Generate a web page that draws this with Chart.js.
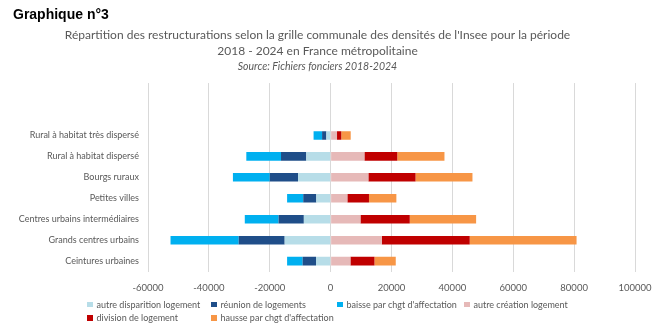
<!DOCTYPE html>
<html>
<head>
<meta charset="utf-8">
<script src="https://cdn.jsdelivr.net/npm/chart.js@4/dist/chart.umd.min.js"></script>
<style>
    body { margin: 0; background: #fff; }
    #page { position: relative; width: 664px; height: 330px; overflow: hidden; }
    #graphique { position: absolute; left: 0; top: 0; }
    #numero {
        position: absolute; left: 13px; top: 6px;
        font: bold 14px "Liberation Sans", Arial, sans-serif; color: #000;
    }
    #legende {
        position: absolute; left: 87px; top: 298px;
        display: grid; grid-template-columns: 124px 126px 127px auto;
        row-gap: 1px;
        font: 9px Lato, sans-serif; color: #595959;
    }
    #legende span { display: flex; align-items: center; height: 12.5px; white-space: nowrap; }
    #legende i { display: inline-block; flex-shrink: 0; width: 5.5px; height: 5.5px; margin-right: 4px; }
</style>
</head>
<body>
<div id="page">
    <canvas id="graphique" width="664" height="330"></canvas>
    <div id="numero">Graphique n°3</div>
    <div id="legende"></div>
</div>
<script>
const categories = [
    "Rural à habitat très dispersé", "Rural à habitat dispersé", "Bourgs ruraux",
    "Petites villes", "Centres urbains intermédiaires", "Grands centres urbains",
    "Ceintures urbaines"
];

const autreDisparition = [-1400, -8000, -10700, -4700, -8800, -15100, -4800];
const reunion = [-1400, -8300, -9300, -4300, -8300, -15100, -4400];
const baisse = [-2800, -11400, -12100, -5300, -11100, -22400, -5100];
const autreCreation = [2100, 11100, 12400, 5500, 9800, 16800, 6500];
const division = [1400, 10800, 15500, 7100, 16200, 28900, 7900];
const hausse = [3100, 15500, 18700, 9000, 21800, 35100, 7000];

const series = [
    { nom: "autre disparition logement", valeurs: autreDisparition, couleur: '#b7dde8' },
    { nom: "réunion de logements", valeurs: reunion, couleur: '#1f4e89' },
    { nom: "baisse par chgt d'affectation", valeurs: baisse, couleur: '#00b0f0' },
    { nom: "autre création logement", valeurs: autreCreation, couleur: '#e6b9b8' },
    { nom: "division de logement", valeurs: division, couleur: '#c00000' },
    { nom: "hausse par chgt d'affectation", valeurs: hausse, couleur: '#f79646' }
];

// deux lignes vides en haut, comme dans le graphique Excel
const labels = ['', ''].concat(categories);

const datasets = [];
for (let i = 0; i < series.length; i++) {
    datasets.push({
        label: series[i].nom,
        data: [null, null].concat(series[i].valeurs),
        backgroundColor: series[i].couleur,
        barPercentage: 0.41,
        categoryPercentage: 1
    });
}

const legende = document.getElementById('legende');
for (let i = 0; i < series.length; i++) {
    legende.innerHTML += `<span><i style="background:${series[i].couleur}"></i>${series[i].nom}</span>`;
}

new Chart(document.getElementById('graphique'), {
    type: 'bar',
    data: { labels: labels, datasets: datasets },
    options: {
        indexAxis: 'y',
        responsive: false,
        animation: false,
        layout: { padding: { top: 20, right: 29, bottom: 25, left: 0 } },
        plugins: {
            legend: { display: false },
            tooltip: { enabled: false },
            title: {
                display: true,
                text: ["Répartition des restructurations selon la grille communale des densités de l'Insee pour la période",
                       "2018 - 2024 en France métropolitaine"],
                color: '#595959',
                font: { family: 'Lato', size: 12, weight: 'normal', lineHeight: 1.35 },
                padding: { top: 7, bottom: 0 }
            },
            subtitle: {
                display: true,
                text: 'Source: Fichiers fonciers 2018-2024',
                color: '#595959',
                font: { family: 'Lato', size: 10.5, style: 'italic', lineHeight: 1.3 },
                padding: { top: 0, bottom: 10 }
            }
        },
        scales: {
            x: {
                stacked: true,
                min: -60000,
                max: 100000,
                ticks: {
                    stepSize: 20000,
                    color: '#595959',
                    font: { family: 'Lato', size: 9.5 },
                    padding: 11,
                    maxRotation: 0,
                    callback: function (valeur) { return String(valeur); }
                },
                grid: { color: '#d9d9d9', drawTicks: false },
                border: { display: false }
            },
            y: {
                stacked: true,
                afterFit: function (axe) { axe.width = 148; },
                ticks: {
                    color: '#595959',
                    font: { family: 'Lato', size: 9 },
                    padding: 9,
                    autoSkip: false
                },
                grid: { display: false, drawTicks: false },
                border: { display: false }
            }
        }
    }
});
</script>
</body>
</html>
